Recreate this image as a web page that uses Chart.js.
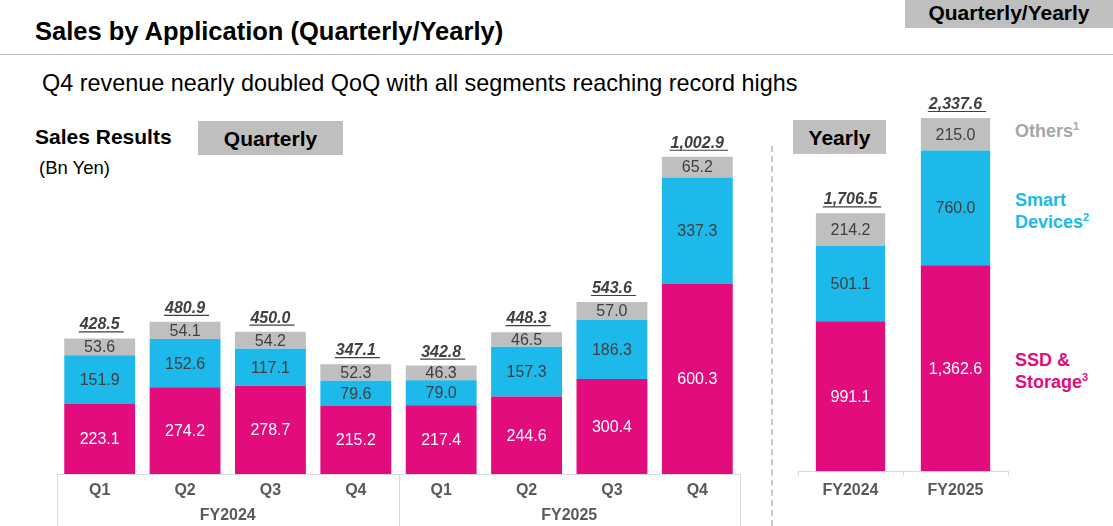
<!DOCTYPE html>
<html>
<head>
<meta charset="utf-8">
<script src="https://cdn.jsdelivr.net/npm/chart.js@4/dist/chart.umd.min.js"></script>
<style>
  body { margin: 0; width: 1113px; height: 526px; position: relative; overflow: hidden; background: #fff;
         font-family: "Liberation Sans", Arial, sans-serif; color: #000; }
  .abs { position: absolute; white-space: nowrap; }
  .box { position: absolute; background: #bfbfbf; font-weight: bold; text-align: center; }
  .leg { position: absolute; font-weight: bold; font-size: 18px; line-height: 22px; }
  .leg sup { font-size: 11px; vertical-align: 7px; line-height: 0; }
</style>
</head>
<body>
<div class="abs" style="left:35px; top:15px; font-size:25.5px; font-weight:bold; line-height:32px;">Sales by Application (Quarterly/Yearly)</div>
<div class="box" style="left:905px; top:0; width:208px; height:28px; line-height:26px; font-size:21px;">Quarterly/Yearly</div>
<div class="abs" style="left:0; top:54px; width:1113px; height:1px; background:#bfbfbf;"></div>
<div class="abs" style="left:42px; top:68px; font-size:23.4px; line-height:30px;">Q4 revenue nearly doubled QoQ with all segments reaching record highs</div>
<div class="abs" style="left:35px; top:124px; font-size:21px; font-weight:bold; line-height:26px;">Sales Results</div>
<div class="box" style="left:198px; top:121px; width:145px; height:34px; line-height:36px; font-size:21px;">Quarterly</div>
<div class="abs" style="left:39px; top:157px; font-size:18.5px; line-height:22px;">(Bn Yen)</div>
<div class="box" style="left:793px; top:120px; width:93px; height:34px; line-height:36px; font-size:21px;">Yearly</div>
<div class="abs" style="left:771px; top:146px; height:380px; border-left:2px dashed #c8c8c8;"></div>

<div class="leg" style="left:1015px; top:120px; color:#a6a6a6;">Others<sup>1</sup></div>
<div class="leg" style="left:1015px; top:189px; color:#1cb9ea;">Smart<br>Devices<sup>2</sup></div>
<div class="leg" style="left:1015px; top:349px; color:#e20c7c;">SSD &amp;<br>Storage<sup>3</sup></div>

<div class="abs" style="left:0; top:100px; width:760px; height:426px;"><canvas id="qChart"></canvas></div>
<div class="abs" style="left:760px; top:80px; width:353px; height:446px;"><canvas id="yChart"></canvas></div>

<script>
// quarterly
var quarters = ['Q1', 'Q2', 'Q3', 'Q4', 'Q1', 'Q2', 'Q3', 'Q4'];
var fiscalYears = ['FY2024', 'FY2025'];
var qSsd = [223.1, 274.2, 278.7, 215.2, 217.4, 244.6, 300.4, 600.3];
var qSmart = [151.9, 152.6, 117.1, 79.6, 79.0, 157.3, 186.3, 337.3];
var qOthers = [53.6, 54.1, 54.2, 52.3, 46.3, 46.5, 57.0, 65.2];
var qTotals = [428.5, 480.9, 450.0, 347.1, 342.8, 448.3, 543.6, 1002.9];

// yearly
var years = ['FY2024', 'FY2025'];
var ySsd = [991.1, 1362.6];
var ySmart = [501.1, 760.0];
var yOthers = [214.2, 215.0];
var yTotals = [1706.5, 2337.6];

var PINK = '#e20c7c', BLUE = '#1cb9ea', GRAY = '#bfbfbf';
var FONT = "'Liberation Sans', Arial, sans-serif";
Chart.defaults.font.family = FONT;
Chart.defaults.animation = false;

var fmt = function(v) {
    return v.toLocaleString('en-US', { minimumFractionDigits: 1, maximumFractionDigits: 1 });
};

// values inside the segments + underlined totals on top
var segLabels = {
    id: 'segLabels',
    afterDatasetsDraw: function(chart, args, opts) {
        var ctx = chart.ctx;
        ctx.save();
        ctx.textAlign = 'center';
        ctx.textBaseline = 'middle';
        ctx.font = '16px ' + FONT;
        chart.data.datasets.forEach(function(ds, i) {
            chart.getDatasetMeta(i).data.forEach(function(bar, j) {
                ctx.fillStyle = ds.labelColor;
                ctx.fillText(fmt(ds.data[j]), bar.x, (bar.y + bar.base) / 2 + 1);
            });
        });
        var last = chart.getDatasetMeta(chart.data.datasets.length - 1).data;
        ctx.font = 'italic bold 16px ' + FONT;
        ctx.textBaseline = 'alphabetic';
        ctx.fillStyle = '#404040';
        ctx.strokeStyle = '#404040';
        ctx.lineWidth = 1.2;
        last.forEach(function(bar, j) {
            var txt = fmt(opts.totals[j]);
            var w = ctx.measureText(txt).width;
            ctx.fillText(txt, bar.x, bar.y - 9);
            ctx.beginPath();
            ctx.moveTo(bar.x - w / 2 - 1, bar.y - 6.5);
            ctx.lineTo(bar.x + w / 2 + 4, bar.y - 6.5);
            ctx.stroke();
        });
        ctx.restore();
    }
};

// year separators and FY labels under the quarters
var fyAxis = {
    id: 'fyAxis',
    afterDraw: function(chart) {
        if (!chart.options.plugins.fyAxis) return;
        var xs = chart.scales.x, ctx = chart.ctx;
        var w = xs.width / quarters.length;
        var bottom = chart.chartArea.bottom;
        ctx.save();
        ctx.strokeStyle = '#d9d9d9';
        ctx.lineWidth = 1;
        [0, 4, 8].forEach(function(k) {
            var x = Math.round(xs.left + k * w) + 0.5;
            ctx.beginPath();
            ctx.moveTo(x, bottom);
            ctx.lineTo(x, chart.height);
            ctx.stroke();
        });
        ctx.fillStyle = '#595959';
        ctx.font = 'bold 16px ' + FONT;
        ctx.textAlign = 'center';
        ctx.textBaseline = 'middle';
        fiscalYears.forEach(function(fy, k) {
            ctx.fillText(fy, xs.left + (k * 4 + 2) * w, bottom + 42);
        });
        ctx.restore();
    }
};

function makeDatasets(ssd, smart, others, barPct) {
    return [
        { label: 'SSD & Storage', data: ssd, backgroundColor: PINK, labelColor: '#ffffff', barPercentage: barPct, categoryPercentage: 1 },
        { label: 'Smart Devices', data: smart, backgroundColor: BLUE, labelColor: '#404040', barPercentage: barPct, categoryPercentage: 1 },
        { label: 'Others', data: others, backgroundColor: GRAY, labelColor: '#404040', barPercentage: barPct, categoryPercentage: 1 }
    ];
}

new Chart(document.getElementById('qChart'), {
    type: 'bar',
    data: { labels: quarters, datasets: makeDatasets(qSsd, qSmart, qOthers, 0.83) },
    options: {
        responsive: true,
        maintainAspectRatio: false,
        layout: { padding: { left: 57, right: 20, top: 26, bottom: 0 } },
        scales: {
            x: {
                stacked: true,
                grid: { display: false, drawTicks: false },
                border: { color: '#d9d9d9' },
                ticks: { color: '#595959', font: { size: 16, weight: 'bold' }, padding: 7 },
                afterFit: function(scale) { scale.height = 52; }
            },
            y: { stacked: true, display: false, min: 0, max: 1100 }
        },
        plugins: {
            legend: false,
            tooltip: { enabled: false },
            segLabels: { totals: qTotals },
            fyAxis: true
        }
    },
    plugins: [segLabels, fyAxis]
});

new Chart(document.getElementById('yChart'), {
    type: 'bar',
    data: { labels: years, datasets: makeDatasets(ySsd, ySmart, yOthers, 0.66) },
    options: {
        responsive: true,
        maintainAspectRatio: false,
        layout: { padding: { left: 38, right: 105, top: 13.5, bottom: 0 } },
        scales: {
            x: {
                stacked: true,
                grid: { display: true, drawOnChartArea: false, drawTicks: true, tickLength: 5, color: '#d9d9d9' },
                border: { color: '#d9d9d9' },
                ticks: { color: '#595959', font: { size: 16, weight: 'bold' }, padding: 5 },
                afterFit: function(scale) { scale.height = 55; }
            },
            y: { stacked: true, display: false, min: 0, max: 2500 }
        },
        plugins: {
            legend: false,
            tooltip: { enabled: false },
            segLabels: { totals: yTotals },
            fyAxis: false
        }
    },
    plugins: [segLabels, fyAxis]
});
</script>
</body>
</html>
